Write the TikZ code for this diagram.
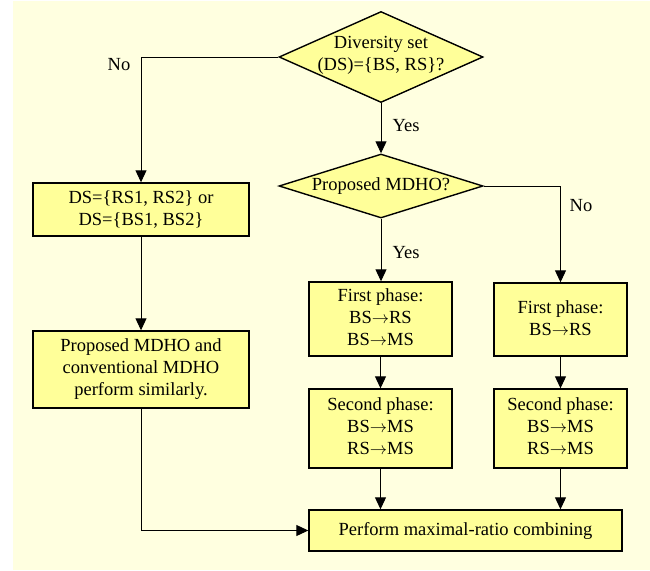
\documentclass[tikz,border=0pt]{standalone}
\usepackage{fontspec}
\setmainfont{Liberation Serif}
\usetikzlibrary{shapes.geometric,arrows.meta}
\definecolor{panel}{RGB}{255,255,224}
\definecolor{boxfill}{RGB}{255,255,153}
\newcommand{\ar}{\ensuremath{\rightarrow}}
\tikzset{
  txt/.style={font=\fontsize{18.5}{22}\selectfont, align=center, inner sep=0pt},
  box/.style={draw=black, line width=1.4pt, fill=boxfill, rectangle, inner sep=0pt},
  dia/.style={draw=black, line width=1.4pt, fill=boxfill, diamond, inner sep=0pt},
  arr/.style={line width=1pt, -{Triangle[length=12pt,width=11pt]}},
  lbl/.style={font=\fontsize{18.5}{22}\selectfont, inner sep=0pt}
}
\begin{document}
\begin{tikzpicture}[x=1pt,y=-1pt]
\useasboundingbox (0,0) rectangle (650,570);
\fill[panel] (13,1) rectangle (650,570);
% diamonds
\node[dia, minimum width=204pt, minimum height=91pt] (d1) at (381,57) {};
\node[txt] (d1t) at (381,55) {Diversity set\\(DS)=\{BS, RS\}?};
\node[dia, minimum width=204pt, minimum height=64pt] (d2) at (381,186) {};
\node[txt] (d2t) at (381,186) {Proposed MDHO?};
% boxes
\node[box, minimum width=216pt, minimum height=53pt] (b1) at (141,209.5) {};
\node[txt] (b1t) at (b1) {DS=\{RS1, RS2\} or\\DS=\{BS1, BS2\}};
\node[box, minimum width=216pt, minimum height=77pt] (b2) at (141,369.5) {};
\node[txt] (b2t) at (b2) {Proposed MDHO and\\conventional MDHO\\perform similarly.};
\node[box, minimum width=143pt, minimum height=74pt] (b3) at (380.5,319) {};
\node[txt] (b3t) at (380.5,317) {First phase:\\BS\ar RS\\BS\ar MS};
\node[box, minimum width=133pt, minimum height=73pt] (b4) at (560.5,319.5) {};
\node[txt] (b4t) at (560.5,318) {First phase:\\BS\ar RS};
\node[box, minimum width=143pt, minimum height=79pt] (b5) at (380.5,428.5) {};
\node[txt] (b5t) at (380.5,426.5) {Second phase:\\BS\ar MS\\RS\ar MS};
\node[box, minimum width=133pt, minimum height=79pt] (b6) at (560.5,428.5) {};
\node[txt] (b6t) at (560.5,426.5) {Second phase:\\BS\ar MS\\RS\ar MS};
\node[box, minimum width=313pt, minimum height=41pt] (b7) at (465.5,530.5) {};
\node[txt] (b7t) at (b7) {Perform maximal-ratio combining};
% labels
\node[lbl] (no1) at (119,65) {No};
\node[lbl] (yes1) at (406,126) {Yes};
\node[lbl] (no2) at (581,206) {No};
\node[lbl] (yes2) at (406,253) {Yes};
% connectors
\draw[arr] (d1.west) -| (b1.north);
\draw[arr] (d1.south) -- (d2.north);
\draw[arr] (d2.east) -| (b4.north);
\draw[arr] (d2.south) -- (d2.south |- b3.north);
\draw[arr] (b1.south) -- (b2.north);
\draw[arr] (b3.south) -- (b5.north);
\draw[arr] (b4.south) -- (b6.north);
\draw[arr] (b5.south) -- (b5.south |- b7.north);
\draw[arr] (b6.south) -- (b6.south |- b7.north);
\draw[arr] (b2.south) |- (b7.west);
\end{tikzpicture}
\end{document}
